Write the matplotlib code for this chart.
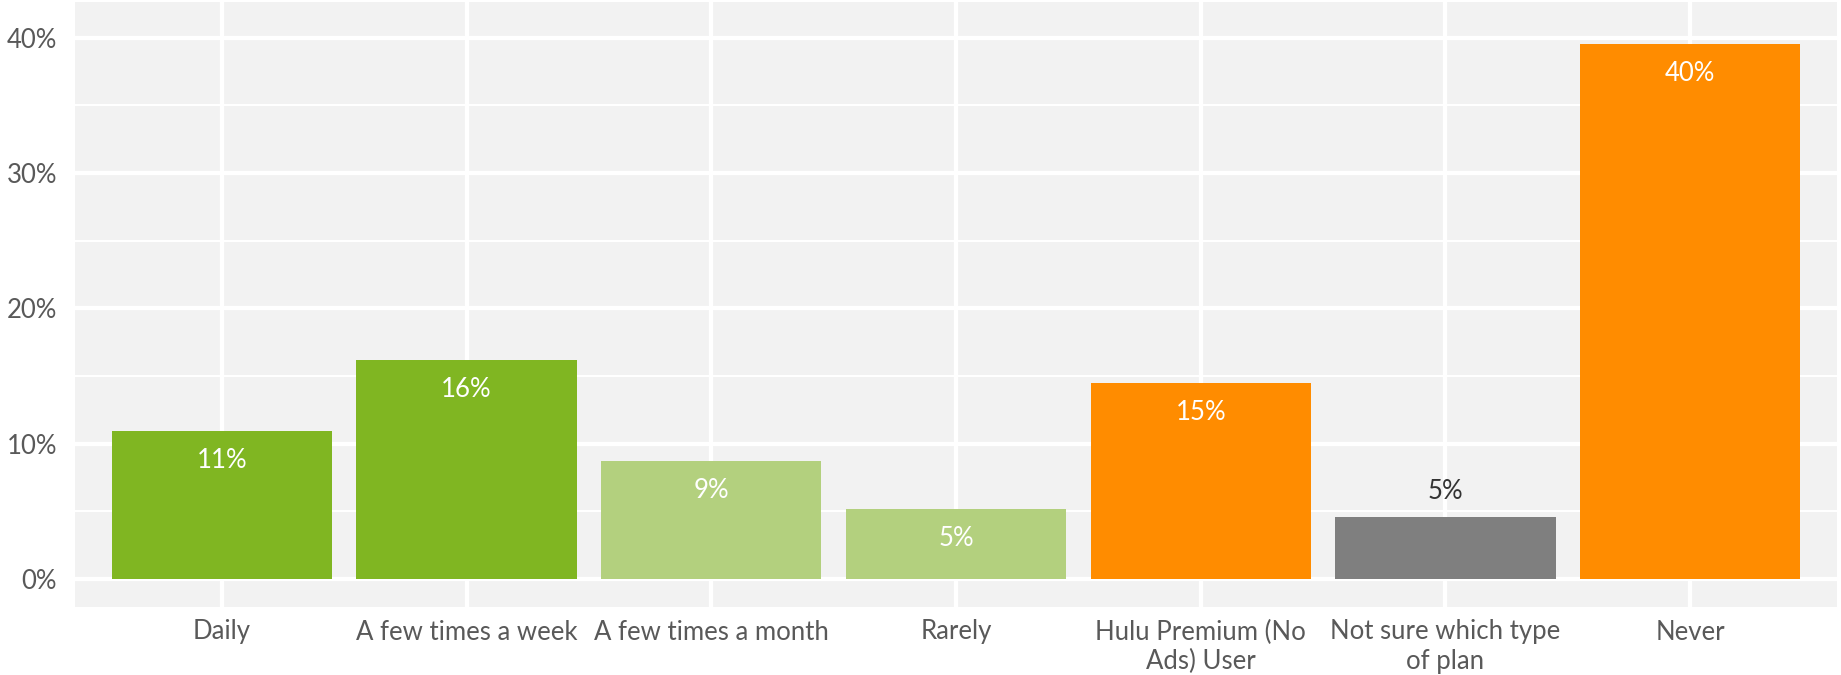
import matplotlib
matplotlib.use("Agg")
import matplotlib.pyplot as plt
from matplotlib.ticker import MultipleLocator, FuncFormatter

categories = ["Daily", "A few times a week", "A few times a month", "Rarely",
              "Hulu Premium (No\nAds) User", "Not sure which type\nof plan", "Never"]
values = [10.95, 16.2, 8.75, 5.2, 14.5, 4.6, 39.55]
labels = ["11%", "16%", "9%", "5%", "15%", "5%", "40%"]
colors = ["#80B622", "#80B622", "#B3D07E", "#B3D07E", "#FF8C00", "#7F7F7F", "#FF8C00"]
label_inside = [True, True, True, True, True, False, True]

plt.rcParams['font.family'] = ['Lato', 'DejaVu Sans']

W, H = 1841, 675
fig = plt.figure(figsize=(W / 100, H / 100), dpi=100)
ax = fig.add_axes([75 / W, 1 - 607 / H, (1837 - 75) / W, (607 - 2) / H])
ax.set_facecolor("#F2F2F2")

x = list(range(len(categories)))
ax.bar(x, values, width=0.9, color=colors, zorder=3)

for xi, v, lab, inside in zip(x, values, labels, label_inside):
    if inside:
        ax.annotate(lab, (xi, v), xytext=(0, -30), textcoords="offset pixels",
                    ha="center", va="center", color="white", fontsize=18.5, zorder=4)
    else:
        ax.annotate(lab, (xi, v), xytext=(0, 25), textcoords="offset pixels",
                    ha="center", va="center", color="#333333", fontsize=18.5, zorder=4)

ax.set_xlim(-0.6, 6.6)
ax.set_ylim(-2.07, 42.63)
ax.yaxis.set_major_locator(MultipleLocator(10))
ax.yaxis.set_minor_locator(MultipleLocator(5))
ax.yaxis.set_major_formatter(FuncFormatter(lambda v, p: f"{int(round(v))}%"))
ax.set_xticks(x)
ax.set_xticklabels(categories, linespacing=1.2)

ax.grid(axis="y", which="major", color="white", linewidth=3, zorder=1)
ax.grid(axis="y", which="minor", color="white", linewidth=1.5, zorder=1)
ax.grid(axis="x", which="major", color="white", linewidth=3, zorder=1)

for s in ax.spines.values():
    s.set_visible(False)
ax.tick_params(axis="both", which="both", length=0, labelsize=18.5, labelcolor="#595959")
ax.tick_params(axis="y", pad=13)
ax.tick_params(axis="x", pad=9)

fig.savefig("out.png", dpi=100)
